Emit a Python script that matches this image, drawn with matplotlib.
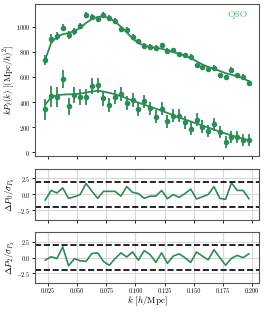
import numpy as np
import matplotlib
matplotlib.use("Agg")
import matplotlib.pyplot as plt

plt.rcParams["font.family"] = "serif"
plt.rcParams["font.serif"] = ["cmr10"]
plt.rcParams["mathtext.fontset"] = "cm"
plt.rcParams["axes.formatter.use_mathtext"] = True

# k bins
k = np.arange(36) * 0.005 + 0.0225

# data k*P0 and k*P2
p0 = [736, 904, 929, 992, 934, 964, 1005, 1094, 1079, 1058, 1091, 1068,
      1046, 985, 977, 916, 883, 850, 840, 832, 853, 807, 812, 782,
      772, 761, 693, 678, 665, 675, 614, 599, 657, 612, 601, 553]
e0 = [38, 34, 32, 30, 28, 27, 26, 25, 25, 24, 24, 23,
      23, 22, 22, 22, 21, 21, 21, 21, 20, 20, 20, 20,
      20, 20, 20, 20, 20, 20, 20, 20, 20, 20, 20, 20]
p2 = [343, 447, 439, 581, 368, 457, 439, 439, 528, 533, 431, 376,
      439, 462, 396, 419, 343, 406, 350, 284, 348, 246, 292, 292,
      241, 190, 261, 206, 170, 223, 160, 81, 122, 122, 96, 102]
e2 = [85, 82, 78, 72, 68, 66, 64, 62, 60, 60, 58, 58,
      56, 56, 55, 55, 54, 54, 53, 53, 52, 52, 52, 51,
      51, 50, 50, 50, 50, 49, 49, 49, 48, 48, 48, 48]

# model curves
m0 = [740, 870, 920, 940, 950, 965, 990, 1030, 1060, 1078, 1082, 1068,
      1040, 1000, 955, 905, 870, 850, 840, 832, 825, 812, 798, 785,
      770, 750, 725, 700, 680, 665, 648, 630, 618, 605, 590, 565]
m2 = [380, 440, 455, 460, 462, 463, 468, 476, 484, 490, 484, 474,
      462, 448, 430, 412, 396, 380, 364, 348, 332, 314, 296, 278,
      262, 246, 230, 214, 198, 182, 165, 150, 136, 122, 108, 96]

# normalised residuals
r0 = [-0.9, 0.6, 0.2, 1.0, -0.65, -0.4, -0.05, 1.7, 0.5, -0.65, 0.45, 0.45,
      0.45, -0.3, 1.2, 0.3, 0.1, -0.65, -0.3, -0.3, 0.6, -0.7, -0.05, -0.5,
      0.1, 0.8, -0.75, -0.4, -0.05, 1.2, -0.65, -0.8, 1.8, 0.6, 0.6, -0.7]
r2 = [-0.4, 0.15, -0.15, 1.7, -1.3, -0.15, -0.5, -0.6, 0.65, 0.75, -0.6, -1.2,
      -0.15, 0.75, 0.1, 0.9, -0.4, 1.1, 0.5, -0.75, 0.75, -0.9, 0.25, 0.6,
      0.0, -0.75, 0.9, 0.25, -0.35, 1.25, 0.0, -1.2, -0.1, 0.35, 0.0, 0.6]

col = "#2e8b57"

fig, axes = plt.subplots(3, 1, figsize=(2.66, 3.12), dpi=100, sharex=True,
                         gridspec_kw={"height_ratios": [3, 1, 1], "hspace": 0.15})
fig.subplots_adjust(left=0.132, right=0.974, top=0.987, bottom=0.093)
ax, ax1, ax2 = axes

ax.errorbar(k, p0, yerr=e0, fmt="o", color=col, ms=3, elinewidth=1.3, capsize=0)
ax.errorbar(k, p2, yerr=e2, fmt="o", color=col, ms=3, elinewidth=1.3, capsize=0)
ax.plot(k, m0, color=col, lw=1.3)
ax.plot(k, m2, color=col, lw=1.3)
ax.set_ylim(-30, 1180)
ax.set_yticks([0, 200, 400, 600, 800, 1000])
ax.set_ylabel(r"$kP_\ell(k)$ $[(\mathrm{Mpc}/h)^2]$", fontsize=6.3)
ax.text(0.95, 0.93, "QSO", transform=ax.transAxes, ha="right", va="center",
        color="#5fb07f", fontsize=7)

for a, r, lab in [(ax1, r0, r"$\Delta P_0/\sigma_{P_0}$"),
                  (ax2, r2, r"$\Delta P_2/\sigma_{P_2}$")]:
    a.grid(True, color="#d8d8d8", lw=0.8)
    a.set_axisbelow(True)
    a.plot(k, r, color=col, lw=1.2)
    a.axhline(2, color="k", ls="--", lw=1.2)
    a.axhline(-2, color="k", ls="--", lw=1.2)
    a.set_ylim(-4, 4)
    a.set_yticks([-2.5, 0.0, 2.5])
    a.set_ylabel(lab, fontsize=6.5)

ax2.set_xticks([0.025, 0.05, 0.075, 0.1, 0.125, 0.15, 0.175, 0.2])
ax2.set_xticklabels(["0.025", "0.050", "0.075", "0.100", "0.125", "0.150",
                     "0.175", "0.200"])
ax2.set_xlabel(r"$k$ $[h/\mathrm{Mpc}]$", fontsize=6.5, labelpad=1)

for a in axes:
    a.yaxis.set_label_coords(-0.08, 0.5)
    a.tick_params(labelsize=4.5, length=2, width=0.6, pad=1.5)
    for s in a.spines.values():
        s.set_color("#555555")
        s.set_linewidth(0.8)

fig.savefig("out.png", dpi=100)
